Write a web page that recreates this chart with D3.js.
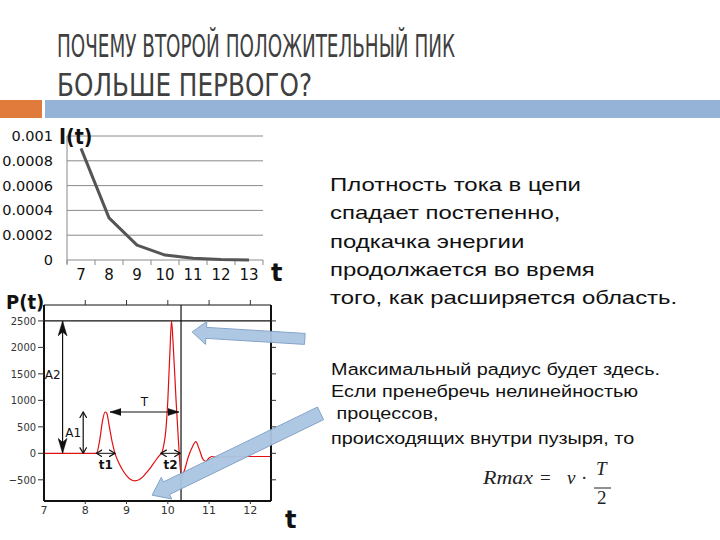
<!DOCTYPE html>
<html><head><meta charset="utf-8">
<script src="https://cdn.jsdelivr.net/npm/d3@7"></script>
<style>html,body{margin:0;padding:0;background:#fff;}svg{display:block;}</style>
</head><body>
<svg id="c" width="720" height="540"></svg>
<script>
// ---------- data ----------
const titleLines = ["ПОЧЕМУ ВТОРОЙ ПОЛОЖИТЕЛЬНЫЙ ПИК", "БОЛЬШЕ ПЕРВОГО?"];
const iCategories = ["7","8","9","10","11","12","13"];
const iValues = [0.0009, 0.00034, 0.00012, 0.00004, 0.000015, 0.000005, 0.000001];
const iTicks = [0, 0.0002, 0.0004, 0.0006, 0.0008, 0.001];
const iTickLabels = ["0", "0.0002", "0.0004", "0.0006", "0.0008", "0.001"];

const pTime  = [7.0, 8.0, 8.27, 8.35, 8.42, 8.48, 8.52, 8.58, 8.65, 8.72, 8.8, 8.9, 9.0, 9.1, 9.2, 9.3, 9.4, 9.5, 9.6, 9.7, 9.8, 9.85, 9.9, 9.95, 10.0, 10.05, 10.09, 10.13, 10.2, 10.26, 10.33, 10.4, 10.5, 10.6, 10.68, 10.76, 10.85, 10.92, 11.0, 11.07, 11.2, 11.4, 12.0, 12.5];
const pValues = [0, 0, 0, 250, 620, 780, 760, 520, 220, 0, -160, -310, -420, -495, -520, -500, -440, -350, -250, -140, -40, 0, 150, 420, 1000, 1900, 2500, 2050, 1000, 200, -470, -330, -60, 130, 220, 80, -110, -150, -90, -60, -80, -65, -60, -60];
const pYTicks = [2500, 2000, 1500, 1000, 500, 0, -500];
const pXTicks = [7, 8, 9, 10, 11, 12];
const pLevelLine = 2500;      // horizontal guide
const pTimeLine = 10.32;      // vertical guide
const vArrows = [
  {t: 7.45, from: 0, to: 2500, labelAt: 1500, label: "A2", kind: "big"},
  {t: 7.95, from: 0, to: 780, labelAt: 400, label: "A1", kind: "open"}
];
const hArrows = [
  {p: 780, from: 8.6, to: 10.27, label: "T", kind: "tri"},
  {p: 0, from: 8.27, to: 8.72, label: "t1", kind: "open"},
  {p: 0, from: 9.83, to: 10.3, label: "t2", kind: "open"}
];
// callout arrows, in P-chart data coordinates (tail -> tip)
const callouts = [
  {tail: [13.32, 2160], tip: [10.59, 2290], shaft: 11, head: 23, headLen: 14},
  {tail: [13.7, 755], tip: [9.62, -790], shaft: 14, head: 24, headLen: 16}
];
const text1 = ["Плотность тока в цепи", "спадает постепенно,", "подкачка энергии", "продолжается во время", "того, как расширяется область."];
const text2 = ["Максимальный радиус будет здесь.", "Если пренебречь нелинейностью", " процессов,", "происходящих внутри пузыря, то"];

// ---------- drawing ----------
const svg = d3.select("#c");

// title
svg.selectAll("text.title").data(titleLines).enter().append("text")
  .attr("x", 57).attr("y", (d,i)=> 57 + i*39)
  .attr("font-family", "'Liberation Sans Narrow','DejaVu Sans Condensed',sans-serif")
  .attr("font-size", 32).attr("fill", "#404040")
  .attr("textLength", (d,i)=> i===0 ? 398 : 255)
  .attr("lengthAdjust", "spacingAndGlyphs")
  .text(d=>d);

// header bars
svg.append("rect").attr("x",0).attr("y",100).attr("width",42).attr("height",18).attr("fill","#e07b3c");
svg.append("rect").attr("x",45).attr("y",100).attr("width",675).attr("height",18).attr("fill","#94b3d6");

// ---------- I(t) chart ----------
const xI = d3.scaleBand().domain(iCategories).range([67, 263]).padding(0);
const yI = d3.scaleLinear().domain([0, 0.001]).range([260, 136]);
const gI = svg.append("g");
gI.selectAll("line.grid").data(iTicks).enter().append("line")
  .attr("x1", 67).attr("x2", 263).attr("y1", d=>yI(d)).attr("y2", d=>yI(d))
  .attr("stroke", "#8a8a8a").attr("stroke-width", 1);
gI.append("line").attr("x1",67).attr("x2",67).attr("y1",yI(0.001)).attr("y2",yI(0)+4)
  .attr("stroke","#8a8a8a");
const bounds = iCategories.map(c=>xI(c)).concat([xI(iCategories[iCategories.length-1]) + xI.bandwidth()]);
gI.selectAll("line.tk").data(bounds).enter().append("line")
  .attr("x1", d=>d).attr("x2", d=>d).attr("y1", yI(0)).attr("y2", yI(0)+5)
  .attr("stroke","#8a8a8a");
gI.selectAll("text.yl").data(iTicks).enter().append("text")
  .attr("x", 53).attr("y", d=>yI(d)+5).attr("text-anchor","end")
  .attr("font-family","'DejaVu Sans',sans-serif").attr("font-size",14.5).attr("fill","#111")
  .text((d,i)=>iTickLabels[i]);
gI.selectAll("text.xl").data(iCategories).enter().append("text")
  .attr("x", d=>xI(d)+xI.bandwidth()/2).attr("y", 280).attr("text-anchor","middle")
  .attr("font-family","'DejaVu Sans',sans-serif").attr("font-size",15).attr("fill","#111")
  .text(d=>d);
gI.append("path").datum(iValues)
  .attr("d", d3.line().x((d,i)=>xI(iCategories[i])+xI.bandwidth()/2).y(d=>yI(d)))
  .attr("fill","none").attr("stroke","#555").attr("stroke-width",3).attr("stroke-linejoin","round");
gI.append("text").attr("x",59).attr("y",144).attr("font-family","'DejaVu Sans Condensed','DejaVu Sans',sans-serif")
  .attr("font-weight","bold").attr("font-size",21).attr("fill","#111").text("I(t)");
gI.append("text").attr("x",271).attr("y",281).attr("font-family","'DejaVu Sans',sans-serif")
  .attr("font-weight","bold").attr("font-size",24).attr("fill","#111").text("t");

// ---------- P(t) chart ----------
const xP = d3.scaleLinear().domain([7, 12.5]).range([44, 271]);
const yP = d3.scaleLinear().domain([-900, 2800]).range([501, 305]);
const gP = svg.append("g");

const defs = svg.append("defs");
function marker(id, path, filled, w, h, refX) {
  defs.append("marker").attr("id", id).attr("markerUnits","userSpaceOnUse")
    .attr("viewBox", `0 ${-h} ${w} ${2*h}`).attr("markerWidth", w).attr("markerHeight", 2*h)
    .attr("refX", refX).attr("refY", 0).attr("orient","auto-start-reverse")
    .append("path").attr("d", path)
    .attr("fill", filled ? "#111" : "none").attr("stroke", "#111").attr("stroke-width", filled ? 0.5 : 1.2);
}
marker("big", "M0,-4.5 L15,0 L0,4.5 L4,0 Z", true, 15, 5, 15);
marker("open", "M0,-3.5 L6,0 L0,3.5", false, 7, 4, 6);
marker("tri", "M0,-3.5 L11,0 L0,3.5 Z", true, 11, 4, 11);

// guide lines
gP.append("line").attr("x1", xP(7)).attr("x2", xP(12.5)).attr("y1", yP(pLevelLine)).attr("y2", yP(pLevelLine))
  .attr("stroke","#111").attr("stroke-width",1.2);
gP.append("line").attr("x1", xP(pTimeLine)).attr("x2", xP(pTimeLine)).attr("y1", yP(2800)).attr("y2", yP(-900))
  .attr("stroke","#111").attr("stroke-width",1.2);

// curve
gP.append("path").datum(pTime.map((t,i)=>[t, pValues[i]]))
  .attr("d", d3.line().x(d=>xP(d[0])).y(d=>yP(d[1])).curve(d3.curveMonotoneX))
  .attr("fill","none").attr("stroke","#e01010").attr("stroke-width",1.2);

// annotations
gP.selectAll("line.va").data(vArrows).enter().append("line")
  .attr("x1", d=>xP(d.t)).attr("x2", d=>xP(d.t)).attr("y1", d=>yP(d.from)).attr("y2", d=>yP(d.to))
  .attr("stroke","#111").attr("stroke-width",1.2)
  .attr("marker-start", d=>`url(#${d.kind})`).attr("marker-end", d=>`url(#${d.kind})`);
gP.selectAll("text.va").data(vArrows).enter().append("text")
  .attr("x", d=>xP(d.t)-2).attr("y", d=> yP(d.labelAt) + 5)
  .attr("text-anchor","end").attr("font-family","'DejaVu Sans',sans-serif").attr("font-size",12).attr("fill","#111")
  .text(d=>d.label);
gP.selectAll("line.ha").data(hArrows).enter().append("line")
  .attr("x1", d=>xP(d.from)).attr("x2", d=>xP(d.to)).attr("y1", d=>yP(d.p)).attr("y2", d=>yP(d.p))
  .attr("stroke","#111").attr("stroke-width",1)
  .attr("marker-start", d=>`url(#${d.kind})`).attr("marker-end", d=>`url(#${d.kind})`);
gP.selectAll("text.ha").data(hArrows).enter().append("text")
  .attr("x", d=>xP((d.from+d.to)/2)).attr("y", d=> d.kind==="tri" ? yP(d.p)-6 : yP(d.p)+16)
  .attr("text-anchor","middle").attr("font-family","'DejaVu Sans',sans-serif").attr("font-size",12)
  .attr("font-weight", d=>d.kind==="open" ? "bold" : "normal").attr("fill","#111")
  .text(d=>d.label);

// frame
gP.append("line").attr("x1",xP(7)).attr("x2",xP(12.5)).attr("y1",yP(2800)).attr("y2",yP(2800)).attr("stroke","#111").attr("stroke-width",1.2);
gP.append("line").attr("x1",xP(7)).attr("x2",xP(12.5)).attr("y1",yP(-900)).attr("y2",yP(-900)).attr("stroke","#111").attr("stroke-width",2);
gP.append("line").attr("x1",xP(7)).attr("x2",xP(7)).attr("y1",yP(2800)).attr("y2",yP(-900)).attr("stroke","#111").attr("stroke-width",2);
gP.append("line").attr("x1",xP(12.5)).attr("x2",xP(12.5)).attr("y1",yP(2800)).attr("y2",yP(-900)).attr("stroke","#111").attr("stroke-width",2);
// ticks
gP.selectAll("line.lt").data(pYTicks).enter().append("line")
  .attr("x1", xP(7)-6).attr("x2", xP(7)).attr("y1", d=>yP(d)).attr("y2", d=>yP(d)).attr("stroke","#333");
gP.selectAll("line.rt").data(pYTicks).enter().append("line")
  .attr("x1", xP(12.5)).attr("x2", xP(12.5)+5).attr("y1", d=>yP(d)).attr("y2", d=>yP(d)).attr("stroke","#333");
gP.selectAll("line.tt").data(pXTicks.slice(1)).enter().append("line")
  .attr("x1", d=>xP(d)).attr("x2", d=>xP(d)).attr("y1", yP(2800)-5).attr("y2", yP(2800)).attr("stroke","#333");
gP.selectAll("line.bt").data(pXTicks.slice(1)).enter().append("line")
  .attr("x1", d=>xP(d)).attr("x2", d=>xP(d)).attr("y1", yP(-900)).attr("y2", yP(-900)+3).attr("stroke","#333");
gP.selectAll("text.yl").data(pYTicks).enter().append("text")
  .attr("x", xP(7)-8).attr("y", d=>yP(d)+4).attr("text-anchor","end")
  .attr("font-family","'DejaVu Sans Condensed','DejaVu Sans',sans-serif").attr("font-size",11).attr("fill","#333")
  .text(d=> d<0 ? "\u2212"+Math.abs(d) : d);
gP.selectAll("text.xl").data(pXTicks).enter().append("text")
  .attr("x", d=>xP(d)).attr("y", 514).attr("text-anchor","middle")
  .attr("font-family","'DejaVu Sans',sans-serif").attr("font-size",11).attr("fill","#333")
  .text(d=>d);
gP.append("text").attr("x",6).attr("y",309).attr("font-family","'DejaVu Sans Condensed','DejaVu Sans',sans-serif")
  .attr("font-weight","bold").attr("font-size",20).attr("fill","#111").text("P(t)");
gP.append("text").attr("x",285).attr("y",528).attr("font-family","'DejaVu Sans',sans-serif")
  .attr("font-weight","bold").attr("font-size",24).attr("fill","#111").text("t");

// callout arrows
function arrowPoly(c) {
  const x0 = xP(c.tail[0]), y0 = yP(c.tail[1]), x1 = xP(c.tip[0]), y1 = yP(c.tip[1]);
  const dx = x1-x0, dy = y1-y0, L = Math.hypot(dx, dy);
  const ux = dx/L, uy = dy/L, nx = -uy, ny = ux;
  const bx = x1 - ux*c.headLen, by = y1 - uy*c.headLen;
  const s = c.shaft/2, h = c.head/2;
  return [[x0+nx*s, y0+ny*s],[bx+nx*s, by+ny*s],[bx+nx*h, by+ny*h],[x1,y1],
          [bx-nx*h, by-ny*h],[bx-nx*s, by-ny*s],[x0-nx*s, y0-ny*s]];
}
svg.selectAll("polygon.co").data(callouts).enter().append("polygon")
  .attr("points", d=>arrowPoly(d).map(p=>p.join(",")).join(" "))
  .attr("fill","#aac6e3").attr("stroke","#7f9fc6").attr("stroke-width",1).attr("opacity",0.95);

// right texts (stretched horizontally like the original)
const tg1 = svg.append("g").attr("transform","translate(330,0) scale(1.33,1)");
tg1.selectAll("text").data(text1).enter().append("text")
  .attr("x", 0).attr("y", (d,i)=>191 + i*28.3)
  .attr("font-family","'Liberation Sans',Arial,sans-serif").attr("font-size",18).attr("fill","#111")
  .style("white-space","pre").text(d=>d);
const tg2 = svg.append("g").attr("transform","translate(331,0) scale(1.2,1)");
tg2.selectAll("text").data(text2).enter().append("text")
  .attr("x", 0).attr("y", (d,i)=>[375,397,419,444][i])
  .attr("font-family","'Liberation Sans',Arial,sans-serif").attr("font-size",16.5).attr("fill","#111")
  .style("white-space","pre").text(d=>d);

// formula
const fg = svg.append("g").attr("font-family","'Liberation Serif','Times New Roman',serif").attr("fill","#222");
fg.append("text").attr("x",483).attr("y",484).attr("font-size",19).attr("font-style","italic")
  .attr("textLength",50).attr("lengthAdjust","spacingAndGlyphs").text("Rmax");
fg.append("text").attr("x",540).attr("y",484).attr("font-size",19).text("=");
fg.append("text").attr("x",567).attr("y",484).attr("font-size",19).attr("font-style","italic").text("v");
fg.append("text").attr("x",581).attr("y",484).attr("font-size",19).text("·");
fg.append("text").attr("x",596).attr("y",475).attr("font-size",19).attr("font-style","italic").text("T");
fg.append("line").attr("x1",594).attr("x2",611).attr("y1",488).attr("y2",488).attr("stroke","#222").attr("stroke-width",1);
fg.append("text").attr("x",597).attr("y",504).attr("font-size",19).text("2");
</script>
</body></html>
